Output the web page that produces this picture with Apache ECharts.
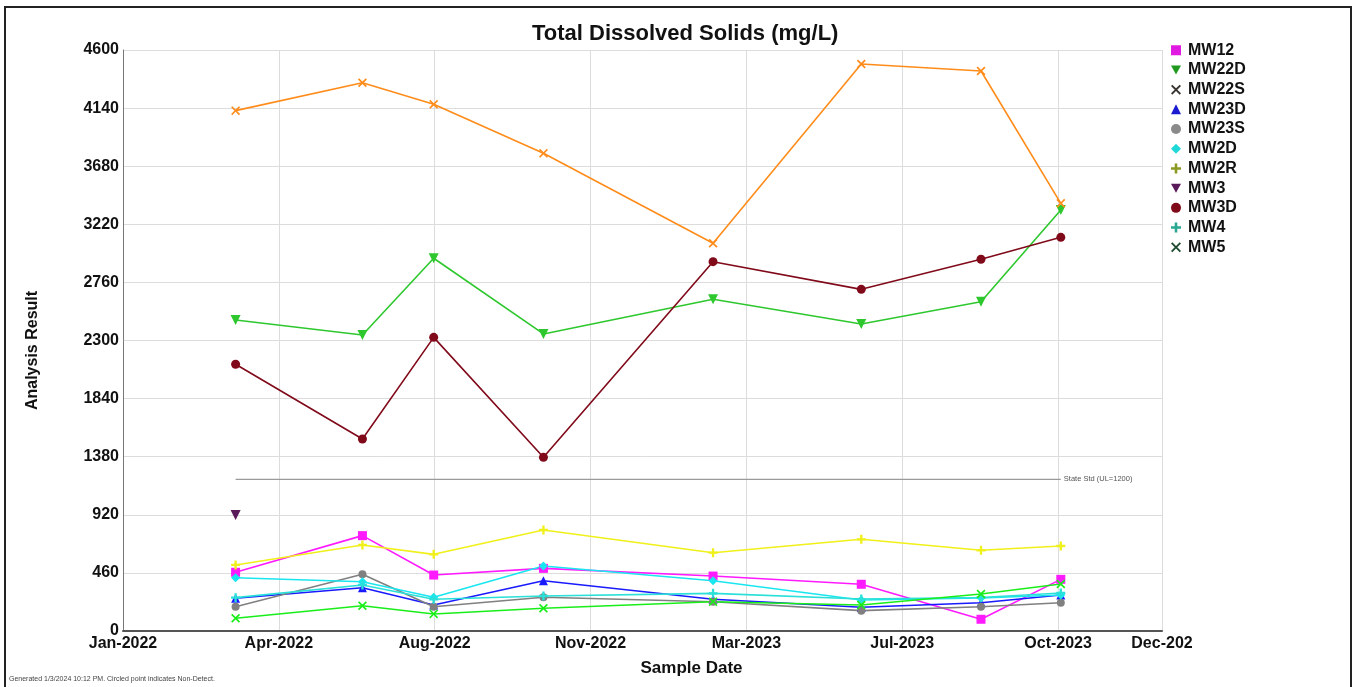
<!DOCTYPE html>
<html>
<head>
<meta charset="utf-8">
<script src="https://cdn.jsdelivr.net/npm/echarts@6/dist/echarts.min.js"></script>
<style>
html,body{margin:0;padding:0;background:#fff;}
#chart{width:1355px;height:687px;}
</style>
</head>
<body>
<div id="chart"></div>
<script>
// ---- data ----
var sampleDates = ['2022-03-21','2022-06-18','2022-08-07','2022-10-23','2023-02-19','2023-06-03','2023-08-26','2023-10-21'];
var xTickLabels = ['Jan-2022','Apr-2022','Aug-2022','Nov-2022','Mar-2023','Jul-2023','Oct-2023','Dec-202'];
var yTickValues = [0,460,920,1380,1840,2300,2760,3220,3680,4140,4600];

var MW12  = [465, 755, 443, 496, 435, 370, 93, 409];
var MW22D = [2462, 2344, 2951, 2352, 2626, 2431, 2607, 3333];
var MW22S = [4120, 4341, 4170, 3782, 3070, 4489, 4434, 3386];
var MW23D = [259, 343, 206, 398, 251, 188, 224, 285];
var MW23S = [192, 449, 192, 267, 232, 161, 192, 224];
var MW2D  = [422, 390, 267, 515, 398, 245, 261, 285];
var MW2R  = [523, 681, 607, 800, 620, 726, 639, 673];
var MW3   = [918];
var MW3D  = [2112, 1520, 2325, 1375, 2924, 2705, 2943, 3117];
var MW4   = [264, 364, 251, 277, 298, 253, 265, 301];
var MW5   = [101, 200, 135, 180, 232, 206, 293, 372];
var stateStd = 1200;
var stateStdLabel = 'State Std (UL=1200)';

// ---- helpers ----
var origin = Date.UTC(2022,0,1);
function dayOf(s){ var p=s.split('-'); return (Date.UTC(+p[0],+p[1]-1,+p[2]) - origin)/86400000; }
var xDays = sampleDates.map(dayOf);
function pairs(vals){ return vals.map(function(v,i){ return [xDays[i], v]; }); }

var xMax = dayOf('2023-12-31');
var xInterval = 109.35;

var P_X = 'path://M1.3,0 L5,3.7 L8.7,0 L10,1.3 L6.3,5 L10,8.7 L8.7,10 L5,6.3 L1.3,10 L0,8.7 L3.7,5 L0,1.3 Z';
var P_PLUS = 'path://M3.7,0 L6.3,0 L6.3,3.7 L10,3.7 L10,6.3 L6.3,6.3 L6.3,10 L3.7,10 L3.7,6.3 L0,6.3 L0,3.7 L3.7,3.7 Z';
var P_DOWN = 'path://M0,0 L10,0 L5,9 Z';

var defs = [
  {name:'MW12',  data:MW12,  color:'#ff1aff', sym:'rect',   size:9, legendColor:'#e01ae0'},
  {name:'MW22D', data:MW22D, color:'#2ec82e', sym:'triangle', rot:180, size:10, legendColor:'#1f9a1f'},
  {name:'MW22S', data:MW22S, color:'#ff8c1a', sym:P_X,      size:9, legendColor:'#3a3430'},
  {name:'MW23D', data:MW23D, color:'#1a1aff', sym:'triangle', size:9, legendColor:'#1a1ad0'},
  {name:'MW23S', data:MW23S, color:'#808080', sym:'circle', size:8, legendColor:'#8a8a8a'},
  {name:'MW2D',  data:MW2D,  color:'#1ae6f0', sym:'diamond',size:9, legendColor:'#20d8d8'},
  {name:'MW2R',  data:MW2R,  color:'#f0f01a', sym:P_PLUS,   size:9, legendColor:'#8a9a20'},
  {name:'MW3',   data:MW3,   color:'#5a1a5a', sym:'triangle', rot:180, size:10, legendColor:'#5a1a5a'},
  {name:'MW3D',  data:MW3D,  color:'#800a1a', sym:'circle', size:9, legendColor:'#800a1a'},
  {name:'MW4',   data:MW4,   color:'#2ae0d8', sym:P_PLUS,   size:9, legendColor:'#28a890'},
  {name:'MW5',   data:MW5,   color:'#1aee1a', sym:P_X,      size:9, legendColor:'#1e4a30'}
];

var FONT = "'Liberation Sans', Arial, sans-serif";

var series = defs.map(function(d){
  return {
    name: d.name, type:'line', data: pairs(d.data),
    symbol: d.sym, symbolSize: d.size, symbolRotate: d.rot || 0,
    showAllSymbol: true,
    lineStyle: {color: d.color, width: 1.6},
    itemStyle: {color: d.color},
    emphasis: {disabled:true},
    z: 3
  };
});
series.push({
  name:'stateStd', type:'line', silent:true,
  data: [[xDays[0], stateStd],[xDays[xDays.length-1], stateStd]],
  symbol:'none', lineStyle:{color:'#9a9a9a', width:1.2}, z:2,
  endLabel:{show:true, formatter: stateStdLabel, fontSize:7.5, color:'#555', fontFamily:FONT, distance:3}
});

var legendData = defs.map(function(d){
  var icon = d.sym;
  if (d.rot === 180) icon = P_DOWN;
  return {name:d.name, icon:icon, itemStyle:{color:d.legendColor}};
});

var chart = echarts.init(document.getElementById('chart'), null, {renderer:'canvas'});
chart.setOption({
  animation:false,
  backgroundColor:'#ffffff',
  title:{
    text:'Total Dissolved Solids (mg/L)', left:527, top:18,
    textStyle:{fontFamily:FONT, fontSize:22, fontWeight:'bold', color:'#111'}
  },
  legend:{
    orient:'vertical', left:1166, top:36, itemWidth:10, itemHeight:10, itemGap:1.2,
    selectedMode:false, data: legendData,
    textStyle:{fontFamily:FONT, fontSize:16, fontWeight:'bold', color:'#111', padding:[0,0,0,2], lineHeight:18.5}
  },
  grid:{left:123, right:193, top:50, bottom:56, containLabel:false},
  xAxis:{
    type:'value', min:0, max:xMax, interval:xInterval,
    name:'Sample Date', nameLocation:'middle', nameGap:29,
    nameTextStyle:{fontFamily:FONT, fontSize:17, fontWeight:'bold', color:'#111', padding:[0,0,0,98]},
    axisLine:{show:true, lineStyle:{color:'#555', width:2}},
    axisTick:{show:false},
    axisLabel:{
      margin:5, fontFamily:FONT, fontSize:16, fontWeight:'bold', color:'#111',
      showMaxLabel:true, showMinLabel:true,
      formatter:function(v){ return xTickLabels[Math.round(v / xInterval)] || ''; }
    },
    splitLine:{show:true, lineStyle:{color:'#dcdcdc', width:1}}
  },
  yAxis:{
    type:'value', min:yTickValues[0], max:yTickValues[yTickValues.length-1], interval:yTickValues[1]-yTickValues[0],
    name:'Analysis Result', nameLocation:'middle', nameGap:82, nameRotate:90,
    nameTextStyle:{fontFamily:FONT, fontSize:16, fontWeight:'bold', color:'#111', padding:[0,20,0,0]},
    axisLine:{show:true, lineStyle:{color:'#777', width:1}},
    axisTick:{show:false},
    axisLabel:{margin:4, fontFamily:FONT, fontSize:16, fontWeight:'bold', color:'#111',
      formatter:function(v){ return String(v); }},
    splitLine:{show:true, lineStyle:{color:'#dcdcdc', width:1}}
  },
  series: series,
  graphic:[
    {type:'rect', shape:{x:5, y:7, width:1346, height:700}, style:{fill:'none', stroke:'#222', lineWidth:2}, silent:true, z:100},
    {type:'text', left:9, top:676, style:{text:'Generated 1/3/2024 10:12 PM. Circled point indicates Non-Detect.', fontSize:7, fontFamily:FONT, fill:'#444'}, silent:true}
  ]
});
</script>
</body>
</html>
